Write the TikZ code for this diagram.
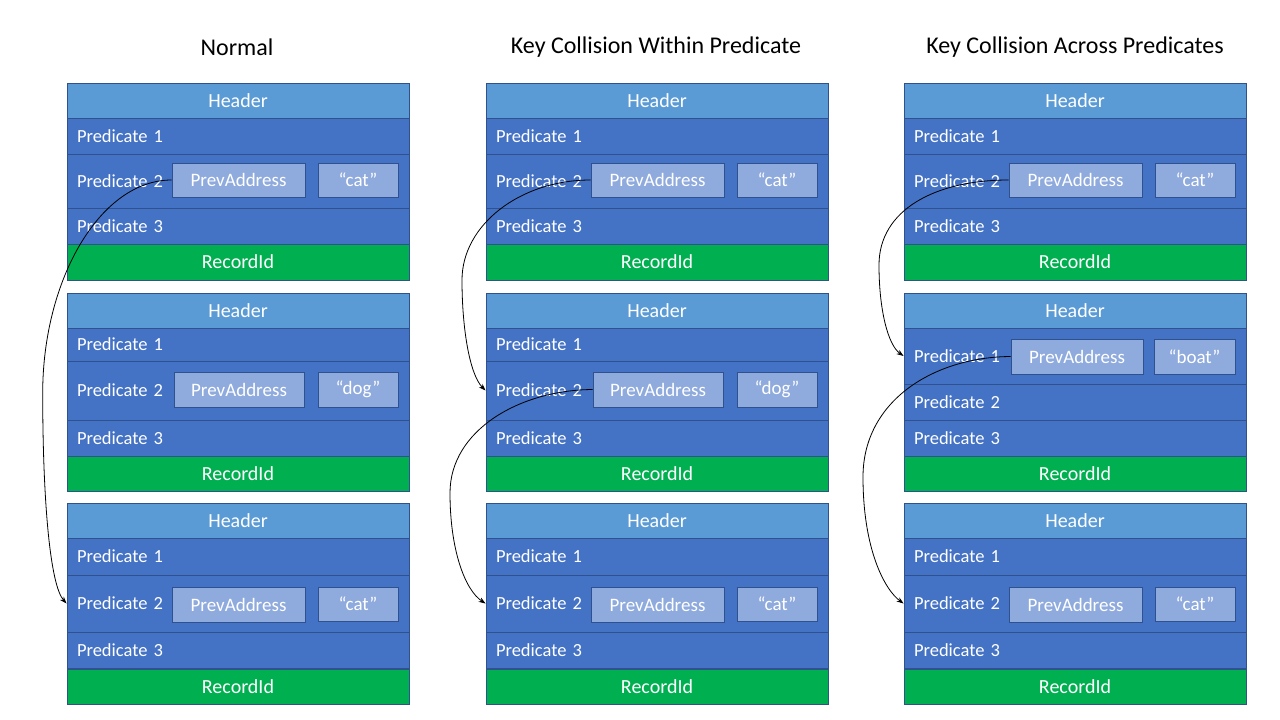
\documentclass[tikz,border=0pt]{standalone}
\usepackage{fontspec}
\setmainfont{Carlito}
\usetikzlibrary{arrows.meta}
\definecolor{hdrc}{HTML}{5B9BD5}
\definecolor{predc}{HTML}{4472C4}
\definecolor{ridc}{HTML}{00B050}
\definecolor{bordc}{HTML}{2F528F}
\definecolor{boxc}{HTML}{8FAADC}
\tikzset{
  cell/.style={draw=bordc, line width=0.9pt, text=white, font=\fontsize{20}{23}\selectfont, minimum width=342pt, inner sep=0pt},
  hdr/.style={cell, fill=hdrc},
  rid/.style={cell, fill=ridc},
  pred/.style={cell, fill=predc, text width=322pt, inner xsep=10pt, align=left, font=\fontsize{18.5}{22}\selectfont},
  ibox/.style={draw=bordc, line width=0.9pt, fill=boxc, text=white, font=\fontsize{19}{22}\selectfont, inner sep=0pt, minimum height=34pt},
  ttl/.style={font=\fontsize{24}{28}\selectfont, text=black},
  arr/.style={-{Stealth[length=7pt,width=5pt]}, line width=0.8pt, black}
}
\begin{document}
\begin{tikzpicture}[x=1pt,y=-1pt]
\useasboundingbox (0,0) rectangle (1280,720);
\node[ttl] (t1) at (237,47) {Normal};
\node[ttl] (t2) at (656,47) {Key Collision Within Predicate};
\node[ttl] (t3) at (1075,47) {Key Collision Across Predicates};
% Record 1 and record 3 in all columns
\foreach \c/\x in {a/67,b/486,c/904}{
  \node[hdr, minimum height=35pt] (\c1h) at ({\x+171},100.5) {Header};
  \node[pred, minimum height=36pt] (\c1p1) at ({\x+171},136) {Predicate 1};
  \node[pred, minimum height=54pt] (\c1p2) at ({\x+171},181) {Predicate 2};
  \node[pred, minimum height=36pt] (\c1p3) at ({\x+171},226) {Predicate 3};
  \node[rid, minimum height=36pt] (\c1r) at ({\x+171},262) {RecordId};
  \node[ibox, minimum width=133pt] (\c1pa) at ({\x+171.5},180) {PrevAddress};
  \node[ibox, minimum width=80pt] (\c1v) at ({\x+291},180) {“cat”};
  \node[hdr, minimum height=35pt] (\c3h) at ({\x+171},520.5) {Header};
  \node[pred, minimum height=37pt] (\c3p1) at ({\x+171},556.5) {Predicate 1};
  \node[pred, minimum height=57pt] (\c3p2) at ({\x+171},603.5) {Predicate 2};
  \node[pred, minimum height=36pt] (\c3p3) at ({\x+171},650) {Predicate 3};
  \node[rid, minimum height=35pt] (\c3r) at ({\x+171},686.5) {RecordId};
  \node[ibox, minimum width=133pt, minimum height=35pt] (\c3pa) at ({\x+171.5},604.5) {PrevAddress};
  \node[ibox, minimum width=80pt] (\c3v) at ({\x+291},604) {“cat”};
}
% Record 2, columns a and b
\foreach \c/\x in {a/67,b/486}{
  \node[hdr, minimum height=35pt] (\c2h) at ({\x+171},310.5) {Header};
  \node[pred, minimum height=33pt] (\c2p1) at ({\x+171},344.5) {Predicate 1};
  \node[pred, minimum height=59pt] (\c2p2) at ({\x+171},390.5) {Predicate 2};
  \node[pred, minimum height=36pt] (\c2p3) at ({\x+171},438) {Predicate 3};
  \node[rid, minimum height=35pt] (\c2r) at ({\x+171},473.5) {RecordId};
  \node[ibox, minimum width=130pt, minimum height=35pt] (\c2pa) at ({\x+172},389.5) {PrevAddress};
  \node[ibox, minimum width=80pt, minimum height=35pt] (\c2v) at ({\x+291},389.5) {“dog”};
}
% Record 2, column c
\node[hdr, minimum height=35pt] (c2h) at (1075,310.5) {Header};
\node[pred, minimum height=56pt] (c2p1) at (1075,356) {Predicate 1};
\node[pred, minimum height=36pt] (c2p2) at (1075,402) {Predicate 2};
\node[pred, minimum height=36pt] (c2p3) at (1075,438) {Predicate 3};
\node[rid, minimum height=35pt] (c2r) at (1075,473.5) {RecordId};
\node[ibox, minimum width=132pt, minimum height=35pt] (c2pa) at (1077,356.5) {PrevAddress};
\node[ibox, minimum width=81pt, minimum height=35pt] (c2v) at (1194.5,356.5) {“boat”};
% Arrows
\draw[arr] (a1pa.west) .. controls (100,180) and (42.7,280) .. (42.7,393)
  .. controls (42.7,500) and (50,585) .. (a3p2.west);
\draw[arr] (b1pa.west) .. controls (520,180) and (462,225) .. (462,280)
  .. controls (462,330) and (470,375) .. (b2p2.west);
\draw[arr] (b2pa.west) .. controls (520,390) and (450,430) .. (450,493)
  .. controls (450,550) and (465,590) .. (b3p2.west);
\draw[arr] (c1pa.west) .. controls (935,180) and (879,210) .. (879,265)
  .. controls (879,310) and (888,345) .. (c2p1.west);
\draw[arr] (c2pa.west) .. controls (935,357) and (863,400) .. (863,477)
  .. controls (863,550) and (885,590) .. (c3p2.west);
\end{tikzpicture}
\end{document}
